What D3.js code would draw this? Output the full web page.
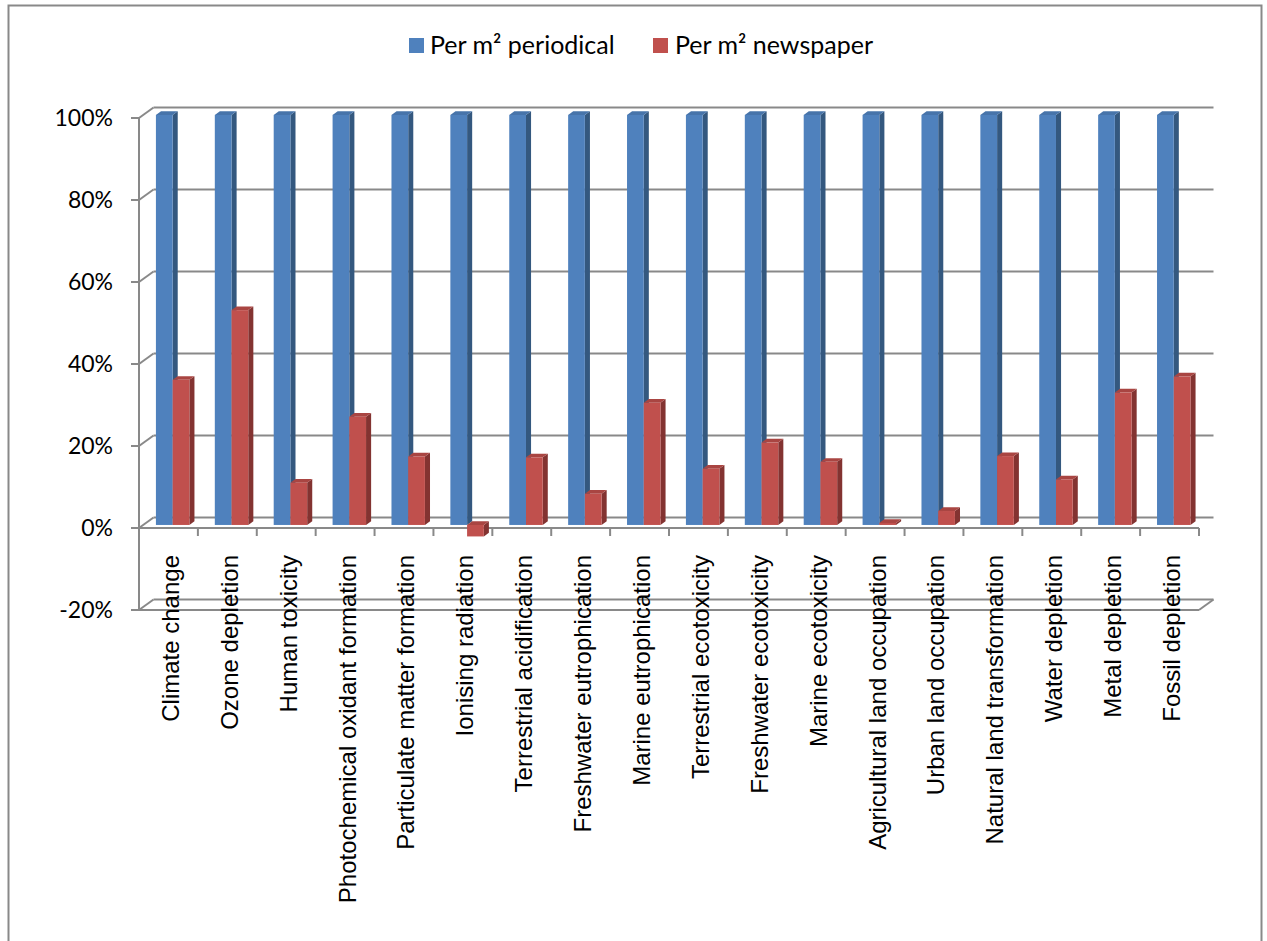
<!DOCTYPE html>
<html>
<head>
<meta charset="utf-8">
<script src="https://cdn.jsdelivr.net/npm/d3@7"></script>
<style>
  body { margin: 0; background: #fff; }
</style>
</head>
<body>
<div id="grafico"></div>
<script>
// ==================== dados ====================
const categorias = [
  "Climate change", "Ozone depletion", "Human toxicity", "Photochemical oxidant formation",
  "Particulate matter formation", "Ionising radiation", "Terrestrial acidification",
  "Freshwater eutrophication", "Marine eutrophication", "Terrestrial ecotoxicity",
  "Freshwater ecotoxicity", "Marine ecotoxicity", "Agricultural land occupation",
  "Urban land occupation", "Natural land transformation", "Water depletion",
  "Metal depletion", "Fossil depletion"
];
const series = ["Per m² periodical", "Per m² newspaper"];
const valoresPeriodical = [100, 100, 100, 100, 100, 100, 100, 100, 100, 100, 100, 100, 100, 100, 100, 100, 100, 100];
const valoresNewspaper = [35.4, 52.4, 10.3, 26.4, 16.7, -2.8, 16.5, 7.6, 29.8, 13.7, 20.1, 15.4, 0.5, 3.4, 16.8, 11.1, 32.3, 36.2];
const ticksY = [-20, 0, 20, 40, 60, 80, 100];

// ==================== dimensoes ====================
const largura = 1267, altura = 941;
const margemEsq = 139, margemDir = 1199, margemTopo = 118, margemBase = 610;
const DX = 14.5, DY = -10.5;          // profundidade total da parede
const f0 = 0.29, fd = 0.35;           // posicao / espessura das barras em profundidade
const cinza = "#898989";
const cores = {
  "Per m² periodical": { frente: "#4F81BD", lado: "#34587F", topo: "#4774AA" },
  "Per m² newspaper":  { frente: "#C0504D", lado: "#833331", topo: "#A94542" }
};

const x = d3.scaleBand().domain(categorias).range([margemEsq, margemDir]).padding(0);
const xs = d3.scaleBand().domain(series).range([0, x.bandwidth()]).paddingInner(0).paddingOuter(0.76);
const y = d3.scaleLinear().domain([-20, 100]).range([margemBase, margemTopo]);

const svg = d3.select("#grafico").append("svg")
  .attr("width", largura).attr("height", altura)
  .attr("viewBox", [0, 0, largura, altura]);

// moldura
svg.append("rect")
  .attr("x", 8.5).attr("y", 5.5).attr("width", 1253).attr("height", 980)
  .attr("fill", "#fff").attr("stroke", cinza).attr("stroke-width", 2);

// legenda
const legenda = svg.append("g").attr("font-family", "Lato, sans-serif").attr("font-size", 25);
[[409, 430], [653, 675]].forEach(([px, tx], i) => {
  legenda.append("rect").attr("x", px).attr("y", 38).attr("width", 15).attr("height", 15)
    .attr("fill", cores[series[i]].frente);
  legenda.append("text").attr("x", tx).attr("y", 54).attr("fill", "#000").text(series[i]);
});

// grelha: paredes e eixo
const grelha = svg.append("g").attr("stroke", cinza).attr("stroke-width", 2).attr("fill", "none");
ticksY.forEach(t => {
  const yy = y(t);
  grelha.append("line").attr("x1", margemEsq - 8).attr("x2", margemEsq).attr("y1", yy).attr("y2", yy);
  grelha.append("line").attr("x1", margemEsq).attr("y1", yy).attr("x2", margemEsq + DX).attr("y2", yy + DY);
  grelha.append("line").attr("x1", margemEsq + DX).attr("y1", yy + DY).attr("x2", margemDir + DX).attr("y2", yy + DY);
});
// chao
grelha.append("line").attr("x1", margemEsq).attr("x2", margemDir).attr("y1", y(-20)).attr("y2", y(-20));
grelha.append("line").attr("x1", margemDir).attr("y1", y(-20)).attr("x2", margemDir + DX).attr("y2", y(-20) + DY);
// eixo vertical
grelha.append("line").attr("x1", margemEsq).attr("x2", margemEsq).attr("y1", y(100)).attr("y2", y(-20));
// eixo das categorias
grelha.append("line").attr("x1", margemEsq).attr("x2", margemDir).attr("y1", y(0)).attr("y2", y(0));
d3.range(categorias.length + 1).forEach(i => {
  const xx = margemEsq + i * x.step();
  grelha.append("line").attr("x1", xx).attr("x2", xx).attr("y1", y(0)).attr("y2", y(0) + 8);
});

// rotulos eixo Y
svg.append("g").attr("font-family", "Lato, sans-serif").attr("font-size", 23)
  .selectAll("text").data(ticksY).join("text")
  .attr("x", 113).attr("y", d => y(d)).attr("dy", "0.36em")
  .attr("text-anchor", "end").attr("fill", "#000")
  .text(d => d + "%");

// rotulos categorias
svg.append("g").attr("font-family", "'Liberation Sans', Arial, sans-serif").attr("font-size", 24)
  .selectAll("text").data(categorias).join("text")
  .attr("transform", d => `translate(${x(d) + x.bandwidth() / 2 + 2},555) rotate(-90)`)
  .attr("text-anchor", "end").attr("dy", "0.35em").attr("fill", "#000")
  .text(d => d);

// barras 3D
const dados = categorias.map((c, i) => ({ categoria: c, valores: [valoresPeriodical[i], valoresNewspaper[i]] }));
const bw = xs.bandwidth();
const ox = f0 * DX, oy = f0 * DY, px = fd * DX, py = fd * DY;
const barras = svg.append("g");
dados.forEach(d => {
  series.forEach((s, j) => {
    const v = d.valores[j];
    const xl = x(d.categoria) + xs(s) + ox;
    const yt = y(Math.max(v, 0)) + oy;
    const yb = y(Math.min(v, 0)) + oy;
    const c = cores[s];
    const g = barras.append("g");
    g.append("polygon")
      .attr("points", [[xl + bw, yt], [xl + bw + px, yt + py], [xl + bw + px, yb + py], [xl + bw, yb]].join(" "))
      .attr("fill", c.lado);
    g.append("polygon")
      .attr("points", [[xl, yt], [xl + px, yt + py], [xl + bw + px, yt + py], [xl + bw, yt]].join(" "))
      .attr("fill", c.topo);
    g.append("rect")
      .attr("x", xl).attr("y", yt).attr("width", bw).attr("height", yb - yt)
      .attr("fill", c.frente);
  });
});
</script>
</body>
</html>
